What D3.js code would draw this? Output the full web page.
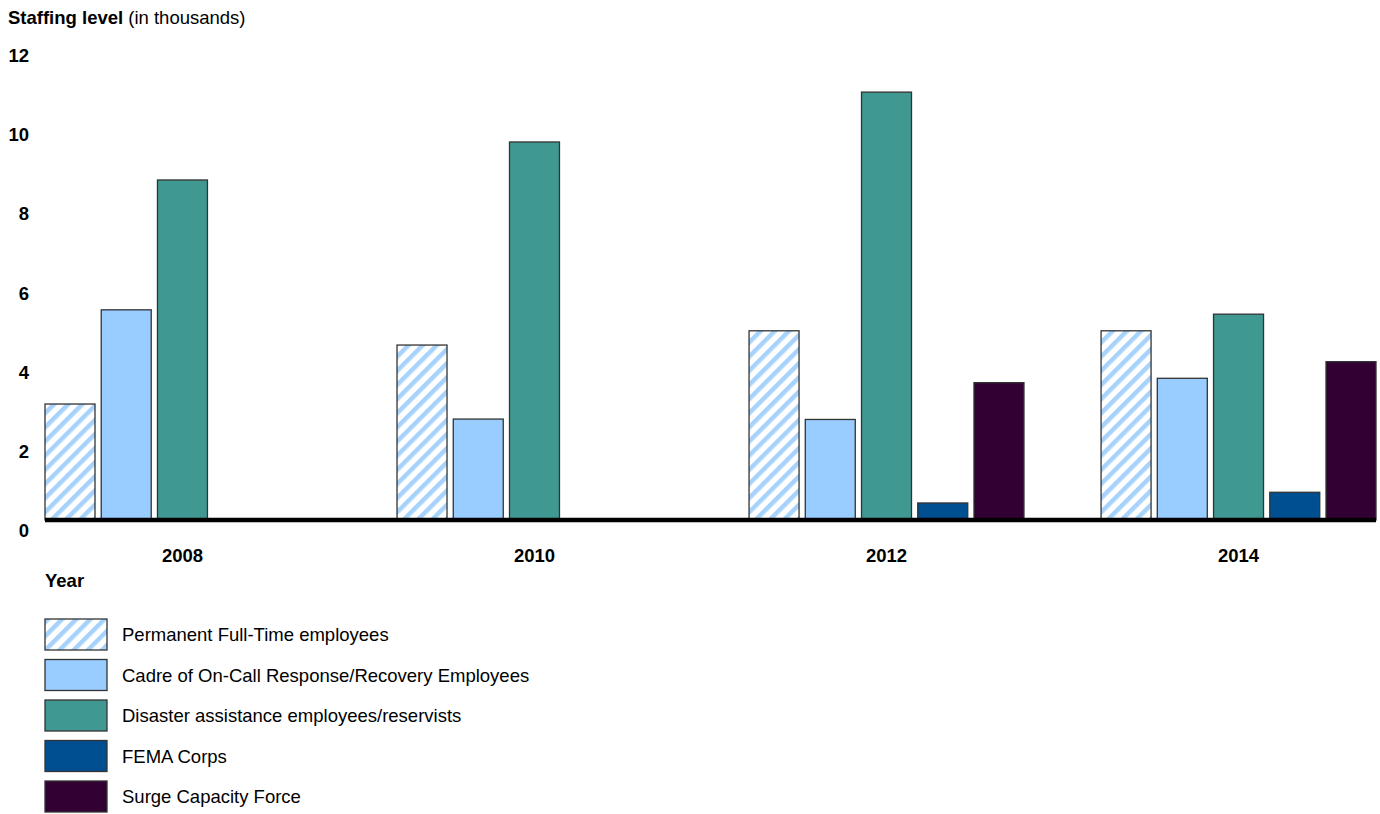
<!DOCTYPE html>
<html>
<head>
<meta charset="utf-8">
<script src="https://cdn.jsdelivr.net/npm/d3@7"></script>
<style>
body { margin: 0; background: #fff; }
svg { font-family: "Liberation Sans", Arial, sans-serif; }
</style>
</head>
<body>
<svg id="chart" width="1380" height="814"></svg>
<script>
let years = ["2008", "2010", "2012", "2014"];
let seriesNames = [
	"Permanent Full-Time employees",
	"Cadre of On-Call Response/Recovery Employees",
	"Disaster assistance employees/reservists",
	"FEMA Corps",
	"Surge Capacity Force"
];
let permanent = [2.93, 4.42, 4.78, 4.78];
let cadre = [5.31, 2.55, 2.54, 3.58];
let reservists = [8.59, 9.55, 10.81, 5.20];
let femaCorps = [null, null, 0.43, 0.70];
let surge = [null, null, 3.47, 4.00];
let yTicks = [0, 2, 4, 6, 8, 10, 12];

let values = [permanent, cadre, reservists, femaCorps, surge];
let fills = ["url(#hatch)", "#99ccff", "#3f9891", "#004f90", "#330033"];

let margin = {top: 45, right: 4, bottom: 294, left: 45};
let width = 1380, height = 814;
let fs = 18.5;
let svg = d3.select("#chart");

let defs = svg.append("defs");
let pat = defs.append("pattern")
	.attr("id", "hatch")
	.attr("patternUnits", "userSpaceOnUse")
	.attr("width", 10)
	.attr("height", 10)
	.attr("patternTransform", "rotate(45)");
pat.append("rect").attr("width", 10).attr("height", 10).attr("fill", "#fff");
pat.append("rect").attr("width", 4.5).attr("height", 10).attr("fill", "#a6d2fb");

let x0 = d3.scaleBand()
	.domain(years)
	.range([margin.left, width - margin.right])
	.paddingInner(0.219);
let x1 = d3.scaleBand()
	.domain(d3.range(seriesNames.length))
	.range([0, x0.bandwidth()])
	.paddingInner(0.111);
let y = d3.scaleLinear()
	.domain([0, 12])
	.range([height - margin.bottom, margin.top]);

// title
let title = svg.append("text")
	.attr("x", 8)
	.attr("y", 24)
	.attr("font-size", fs);
title.append("tspan").attr("font-weight", "bold").text("Staffing level");
title.append("tspan").text(" (in thousands)");

// y tick labels (sit just below their value)
svg.append("g")
	.selectAll("text")
	.data(yTicks)
	.join("text")
	.attr("x", 29)
	.attr("y", d => y(d) + 17)
	.attr("text-anchor", "end")
	.attr("font-size", fs)
	.attr("font-weight", "bold")
	.text(d => d);

// bars
let groups = svg.append("g")
	.selectAll("g")
	.data(years)
	.join("g")
	.attr("transform", d => `translate(${x0(d)},0)`);
groups.selectAll("rect")
	.data((d, yi) => values.map((s, si) => ({si, v: s[yi]})).filter(e => e.v != null))
	.join("rect")
	.attr("x", d => x1(d.si))
	.attr("y", d => y(d.v))
	.attr("width", x1.bandwidth())
	.attr("height", d => y(0) - y(d.v))
	.attr("fill", d => fills[d.si])
	.attr("stroke", "#333")
	.attr("stroke-width", 1.3);

// baseline
svg.append("line")
	.attr("x1", margin.left)
	.attr("x2", width - margin.right)
	.attr("y1", y(0))
	.attr("y2", y(0))
	.attr("stroke", "#000")
	.attr("stroke-width", 4.5);

// year labels
svg.append("g")
	.selectAll("text")
	.data(years)
	.join("text")
	.attr("x", d => x0(d) + x0.bandwidth() / 2)
	.attr("y", y(0) + 42)
	.attr("text-anchor", "middle")
	.attr("font-size", fs)
	.attr("font-weight", "bold")
	.text(d => d);

svg.append("text")
	.attr("x", 45)
	.attr("y", 587)
	.attr("font-size", fs)
	.attr("font-weight", "bold")
	.text("Year");

// legend
let legend = svg.append("g")
	.selectAll("g")
	.data(seriesNames)
	.join("g")
	.attr("transform", (d, i) => `translate(45,${619 + i * 40.5})`);
legend.append("rect")
	.attr("width", 62)
	.attr("height", 31)
	.attr("fill", (d, i) => fills[i])
	.attr("stroke", "#333")
	.attr("stroke-width", 1.3);
legend.append("text")
	.attr("x", 77)
	.attr("y", 22)
	.attr("font-size", fs)
	.text(d => d);
</script>
</body>
</html>
